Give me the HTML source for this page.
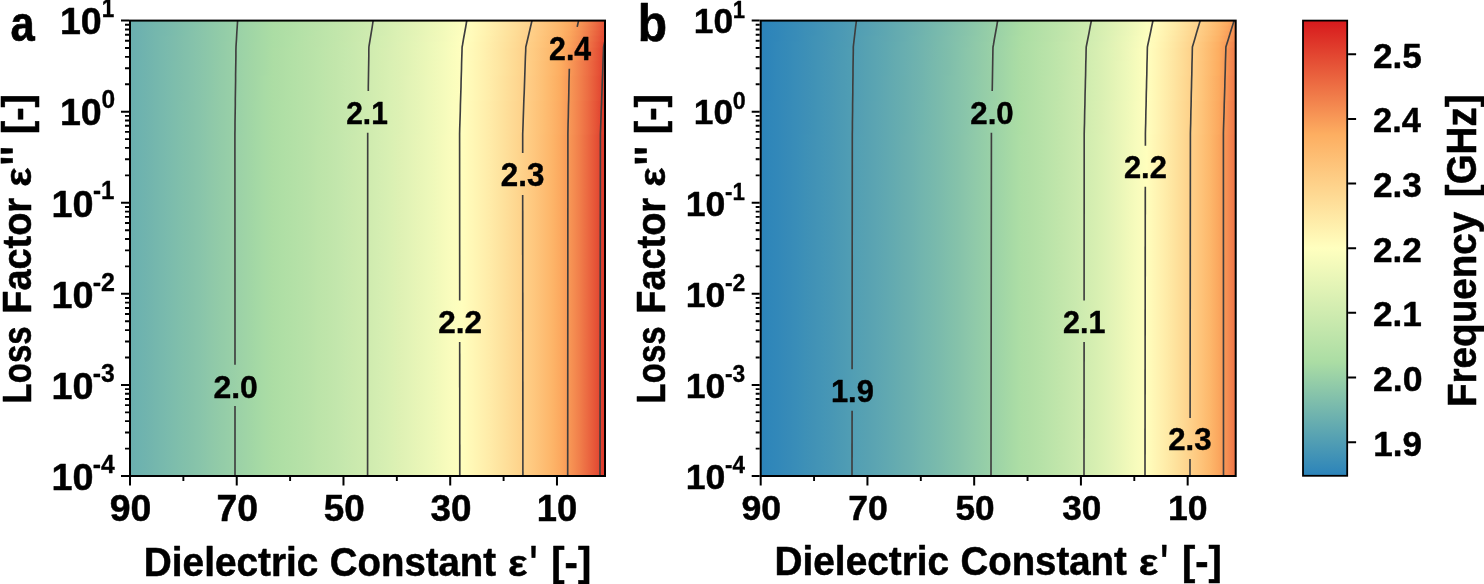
<!DOCTYPE html>
<html lang="en"><head><meta charset="utf-8"><title>Frequency maps</title>
<style>html,body{margin:0;padding:0;background:#fff}svg{display:block}</style></head>
<body>
<svg width="1484" height="584" viewBox="0 0 1484 584"><defs><linearGradient id="ga0" gradientUnits="userSpaceOnUse" x1="129.0" y1="0" x2="606.0" y2="0"><stop offset="0.0000" stop-color="#69afaf"/><stop offset="0.0189" stop-color="#6db1af"/><stop offset="0.0377" stop-color="#70b4ae"/><stop offset="0.0566" stop-color="#74b7ad"/><stop offset="0.0755" stop-color="#78b9ad"/><stop offset="0.0943" stop-color="#7cbcac"/><stop offset="0.1132" stop-color="#80bfab"/><stop offset="0.1321" stop-color="#84c2ab"/><stop offset="0.1509" stop-color="#88c5aa"/><stop offset="0.1698" stop-color="#8dc8a9"/><stop offset="0.1887" stop-color="#91cba9"/><stop offset="0.2075" stop-color="#95cea8"/><stop offset="0.2264" stop-color="#99d1a7"/><stop offset="0.2453" stop-color="#9ed4a6"/><stop offset="0.2642" stop-color="#a2d7a6"/><stop offset="0.2830" stop-color="#a6daa5"/><stop offset="0.3019" stop-color="#abdda4"/><stop offset="0.3208" stop-color="#aedea5"/><stop offset="0.3396" stop-color="#b1dfa6"/><stop offset="0.3585" stop-color="#b4e1a7"/><stop offset="0.3774" stop-color="#b7e2a8"/><stop offset="0.3962" stop-color="#bae3a9"/><stop offset="0.4151" stop-color="#bde4aa"/><stop offset="0.4340" stop-color="#c1e6ab"/><stop offset="0.4528" stop-color="#c4e7ac"/><stop offset="0.4717" stop-color="#c8e9ad"/><stop offset="0.4906" stop-color="#cbeaae"/><stop offset="0.5094" stop-color="#cfecb0"/><stop offset="0.5283" stop-color="#d3edb1"/><stop offset="0.5472" stop-color="#d7efb2"/><stop offset="0.5660" stop-color="#dbf0b3"/><stop offset="0.5849" stop-color="#dff2b5"/><stop offset="0.6038" stop-color="#e4f4b6"/><stop offset="0.6226" stop-color="#e8f6b8"/><stop offset="0.6415" stop-color="#edf8b9"/><stop offset="0.6604" stop-color="#f2fabb"/><stop offset="0.6792" stop-color="#f7fcbc"/><stop offset="0.6981" stop-color="#fcfebe"/><stop offset="0.7170" stop-color="#fffcbc"/><stop offset="0.7358" stop-color="#fff7b5"/><stop offset="0.7547" stop-color="#fff1af"/><stop offset="0.7736" stop-color="#feeba7"/><stop offset="0.7925" stop-color="#fee4a0"/><stop offset="0.8113" stop-color="#fedd98"/><stop offset="0.8302" stop-color="#fed690"/><stop offset="0.8491" stop-color="#fecf87"/><stop offset="0.8679" stop-color="#fec77e"/><stop offset="0.8868" stop-color="#fdbf74"/><stop offset="0.9057" stop-color="#fdb66a"/><stop offset="0.9245" stop-color="#fcab60"/><stop offset="0.9434" stop-color="#f79857"/><stop offset="0.9623" stop-color="#f2824d"/><stop offset="0.9811" stop-color="#eb6941"/><stop offset="1.0000" stop-color="#e54e35"/></linearGradient><linearGradient id="ga1" gradientUnits="userSpaceOnUse" x1="129.0" y1="0" x2="606.0" y2="0"><stop offset="0.0000" stop-color="#69afaf"/><stop offset="0.0189" stop-color="#6db1af"/><stop offset="0.0377" stop-color="#71b4ae"/><stop offset="0.0566" stop-color="#74b7ad"/><stop offset="0.0755" stop-color="#78b9ad"/><stop offset="0.0943" stop-color="#7cbcac"/><stop offset="0.1132" stop-color="#80bfab"/><stop offset="0.1321" stop-color="#84c2ab"/><stop offset="0.1509" stop-color="#89c5aa"/><stop offset="0.1698" stop-color="#8dc8a9"/><stop offset="0.1887" stop-color="#91cba8"/><stop offset="0.2075" stop-color="#95cea8"/><stop offset="0.2264" stop-color="#99d1a7"/><stop offset="0.2453" stop-color="#9ed4a6"/><stop offset="0.2642" stop-color="#a2d7a6"/><stop offset="0.2830" stop-color="#a7daa5"/><stop offset="0.3019" stop-color="#abdda4"/><stop offset="0.3208" stop-color="#aedea5"/><stop offset="0.3396" stop-color="#b1dfa6"/><stop offset="0.3585" stop-color="#b4e1a7"/><stop offset="0.3774" stop-color="#b7e2a8"/><stop offset="0.3962" stop-color="#bae3a9"/><stop offset="0.4151" stop-color="#bee5aa"/><stop offset="0.4340" stop-color="#c1e6ab"/><stop offset="0.4528" stop-color="#c4e7ac"/><stop offset="0.4717" stop-color="#c8e9ad"/><stop offset="0.4906" stop-color="#cbeaae"/><stop offset="0.5094" stop-color="#cfecb0"/><stop offset="0.5283" stop-color="#d3edb1"/><stop offset="0.5472" stop-color="#d7efb2"/><stop offset="0.5660" stop-color="#dbf1b4"/><stop offset="0.5849" stop-color="#e0f2b5"/><stop offset="0.6038" stop-color="#e4f4b6"/><stop offset="0.6226" stop-color="#e9f6b8"/><stop offset="0.6415" stop-color="#edf8b9"/><stop offset="0.6604" stop-color="#f2fabb"/><stop offset="0.6792" stop-color="#f8fcbd"/><stop offset="0.6981" stop-color="#fdfebe"/><stop offset="0.7170" stop-color="#fffcbb"/><stop offset="0.7358" stop-color="#fff6b5"/><stop offset="0.7547" stop-color="#fff0ae"/><stop offset="0.7736" stop-color="#feeaa7"/><stop offset="0.7925" stop-color="#fee39f"/><stop offset="0.8113" stop-color="#fedd97"/><stop offset="0.8302" stop-color="#fed58f"/><stop offset="0.8491" stop-color="#fece86"/><stop offset="0.8679" stop-color="#fec67d"/><stop offset="0.8868" stop-color="#fdbe73"/><stop offset="0.9057" stop-color="#fdb569"/><stop offset="0.9245" stop-color="#fca95f"/><stop offset="0.9434" stop-color="#f79556"/><stop offset="0.9623" stop-color="#f17f4b"/><stop offset="0.9811" stop-color="#eb6640"/><stop offset="1.0000" stop-color="#e44b33"/></linearGradient><linearGradient id="ga2" gradientUnits="userSpaceOnUse" x1="129.0" y1="0" x2="606.0" y2="0"><stop offset="0.0000" stop-color="#69afaf"/><stop offset="0.0189" stop-color="#6db1af"/><stop offset="0.0377" stop-color="#71b4ae"/><stop offset="0.0566" stop-color="#75b7ad"/><stop offset="0.0755" stop-color="#78b9ad"/><stop offset="0.0943" stop-color="#7cbcac"/><stop offset="0.1132" stop-color="#80bfab"/><stop offset="0.1321" stop-color="#85c2ab"/><stop offset="0.1509" stop-color="#89c5aa"/><stop offset="0.1698" stop-color="#8dc8a9"/><stop offset="0.1887" stop-color="#91cba8"/><stop offset="0.2075" stop-color="#95cea8"/><stop offset="0.2264" stop-color="#9ad1a7"/><stop offset="0.2453" stop-color="#9ed4a6"/><stop offset="0.2642" stop-color="#a2d7a5"/><stop offset="0.2830" stop-color="#a7daa5"/><stop offset="0.3019" stop-color="#abdda4"/><stop offset="0.3208" stop-color="#aedea5"/><stop offset="0.3396" stop-color="#b1dfa6"/><stop offset="0.3585" stop-color="#b4e1a7"/><stop offset="0.3774" stop-color="#b7e2a8"/><stop offset="0.3962" stop-color="#bbe3a9"/><stop offset="0.4151" stop-color="#bee5aa"/><stop offset="0.4340" stop-color="#c1e6ab"/><stop offset="0.4528" stop-color="#c5e7ac"/><stop offset="0.4717" stop-color="#c8e9ad"/><stop offset="0.4906" stop-color="#cceaaf"/><stop offset="0.5094" stop-color="#d0ecb0"/><stop offset="0.5283" stop-color="#d3edb1"/><stop offset="0.5472" stop-color="#d7efb2"/><stop offset="0.5660" stop-color="#dcf1b4"/><stop offset="0.5849" stop-color="#e0f2b5"/><stop offset="0.6038" stop-color="#e4f4b6"/><stop offset="0.6226" stop-color="#e9f6b8"/><stop offset="0.6415" stop-color="#eef8b9"/><stop offset="0.6604" stop-color="#f3fabb"/><stop offset="0.6792" stop-color="#f8fcbd"/><stop offset="0.6981" stop-color="#fdfebe"/><stop offset="0.7170" stop-color="#fffbbb"/><stop offset="0.7358" stop-color="#fff6b4"/><stop offset="0.7547" stop-color="#fff0ad"/><stop offset="0.7736" stop-color="#fee9a6"/><stop offset="0.7925" stop-color="#fee39e"/><stop offset="0.8113" stop-color="#fedc96"/><stop offset="0.8302" stop-color="#fed48e"/><stop offset="0.8491" stop-color="#fecd85"/><stop offset="0.8679" stop-color="#fec57c"/><stop offset="0.8868" stop-color="#fdbd72"/><stop offset="0.9057" stop-color="#fdb468"/><stop offset="0.9245" stop-color="#fba65d"/><stop offset="0.9434" stop-color="#f69354"/><stop offset="0.9623" stop-color="#f07c4a"/><stop offset="0.9811" stop-color="#ea633e"/><stop offset="1.0000" stop-color="#e34832"/></linearGradient><linearGradient id="ga3" gradientUnits="userSpaceOnUse" x1="129.0" y1="0" x2="606.0" y2="0"><stop offset="0.0000" stop-color="#69afaf"/><stop offset="0.0189" stop-color="#6db1af"/><stop offset="0.0377" stop-color="#71b4ae"/><stop offset="0.0566" stop-color="#75b7ad"/><stop offset="0.0755" stop-color="#79baad"/><stop offset="0.0943" stop-color="#7dbcac"/><stop offset="0.1132" stop-color="#81bfab"/><stop offset="0.1321" stop-color="#85c2ab"/><stop offset="0.1509" stop-color="#89c5aa"/><stop offset="0.1698" stop-color="#8dc8a9"/><stop offset="0.1887" stop-color="#91cba8"/><stop offset="0.2075" stop-color="#95cea8"/><stop offset="0.2264" stop-color="#9ad1a7"/><stop offset="0.2453" stop-color="#9ed4a6"/><stop offset="0.2642" stop-color="#a2d7a5"/><stop offset="0.2830" stop-color="#a7daa5"/><stop offset="0.3019" stop-color="#abdda4"/><stop offset="0.3208" stop-color="#aedea5"/><stop offset="0.3396" stop-color="#b1e0a6"/><stop offset="0.3585" stop-color="#b4e1a7"/><stop offset="0.3774" stop-color="#b8e2a8"/><stop offset="0.3962" stop-color="#bbe3a9"/><stop offset="0.4151" stop-color="#bee5aa"/><stop offset="0.4340" stop-color="#c1e6ab"/><stop offset="0.4528" stop-color="#c5e7ac"/><stop offset="0.4717" stop-color="#c9e9ad"/><stop offset="0.4906" stop-color="#cceaaf"/><stop offset="0.5094" stop-color="#d0ecb0"/><stop offset="0.5283" stop-color="#d4eeb1"/><stop offset="0.5472" stop-color="#d8efb2"/><stop offset="0.5660" stop-color="#dcf1b4"/><stop offset="0.5849" stop-color="#e0f3b5"/><stop offset="0.6038" stop-color="#e5f4b7"/><stop offset="0.6226" stop-color="#eaf6b8"/><stop offset="0.6415" stop-color="#eef8ba"/><stop offset="0.6604" stop-color="#f3fabb"/><stop offset="0.6792" stop-color="#f9fcbd"/><stop offset="0.6981" stop-color="#feffbf"/><stop offset="0.7170" stop-color="#fffbba"/><stop offset="0.7358" stop-color="#fff5b3"/><stop offset="0.7547" stop-color="#ffefac"/><stop offset="0.7736" stop-color="#fee8a5"/><stop offset="0.7925" stop-color="#fee29d"/><stop offset="0.8113" stop-color="#fedb95"/><stop offset="0.8302" stop-color="#fed38c"/><stop offset="0.8491" stop-color="#fecc84"/><stop offset="0.8679" stop-color="#fec47a"/><stop offset="0.8868" stop-color="#fdbb71"/><stop offset="0.9057" stop-color="#fdb266"/><stop offset="0.9245" stop-color="#faa45c"/><stop offset="0.9434" stop-color="#f59053"/><stop offset="0.9623" stop-color="#ef7948"/><stop offset="0.9811" stop-color="#e95f3d"/><stop offset="1.0000" stop-color="#e24430"/></linearGradient><linearGradient id="ga4" gradientUnits="userSpaceOnUse" x1="129.0" y1="0" x2="606.0" y2="0"><stop offset="0.0000" stop-color="#69afaf"/><stop offset="0.0189" stop-color="#6db1af"/><stop offset="0.0377" stop-color="#71b4ae"/><stop offset="0.0566" stop-color="#75b7ad"/><stop offset="0.0755" stop-color="#79baad"/><stop offset="0.0943" stop-color="#7dbcac"/><stop offset="0.1132" stop-color="#81bfab"/><stop offset="0.1321" stop-color="#85c2ab"/><stop offset="0.1509" stop-color="#89c5aa"/><stop offset="0.1698" stop-color="#8dc8a9"/><stop offset="0.1887" stop-color="#91cba8"/><stop offset="0.2075" stop-color="#96cea8"/><stop offset="0.2264" stop-color="#9ad1a7"/><stop offset="0.2453" stop-color="#9ed4a6"/><stop offset="0.2642" stop-color="#a3d7a5"/><stop offset="0.2830" stop-color="#a7daa5"/><stop offset="0.3019" stop-color="#abdda4"/><stop offset="0.3208" stop-color="#aedea5"/><stop offset="0.3396" stop-color="#b1e0a6"/><stop offset="0.3585" stop-color="#b5e1a7"/><stop offset="0.3774" stop-color="#b8e2a8"/><stop offset="0.3962" stop-color="#bbe3a9"/><stop offset="0.4151" stop-color="#bee5aa"/><stop offset="0.4340" stop-color="#c2e6ab"/><stop offset="0.4528" stop-color="#c5e8ac"/><stop offset="0.4717" stop-color="#c9e9ae"/><stop offset="0.4906" stop-color="#cdebaf"/><stop offset="0.5094" stop-color="#d0ecb0"/><stop offset="0.5283" stop-color="#d4eeb1"/><stop offset="0.5472" stop-color="#d8efb3"/><stop offset="0.5660" stop-color="#ddf1b4"/><stop offset="0.5849" stop-color="#e1f3b5"/><stop offset="0.6038" stop-color="#e5f5b7"/><stop offset="0.6226" stop-color="#eaf7b8"/><stop offset="0.6415" stop-color="#eff9ba"/><stop offset="0.6604" stop-color="#f4fbbb"/><stop offset="0.6792" stop-color="#f9fdbd"/><stop offset="0.6981" stop-color="#ffffbf"/><stop offset="0.7170" stop-color="#fffab9"/><stop offset="0.7358" stop-color="#fff4b2"/><stop offset="0.7547" stop-color="#ffeeab"/><stop offset="0.7736" stop-color="#fee7a4"/><stop offset="0.7925" stop-color="#fee19c"/><stop offset="0.8113" stop-color="#feda94"/><stop offset="0.8302" stop-color="#fed28b"/><stop offset="0.8491" stop-color="#fecb82"/><stop offset="0.8679" stop-color="#fec379"/><stop offset="0.8868" stop-color="#fdba6f"/><stop offset="0.9057" stop-color="#fdb164"/><stop offset="0.9245" stop-color="#faa15b"/><stop offset="0.9434" stop-color="#f48d52"/><stop offset="0.9623" stop-color="#ef7547"/><stop offset="0.9811" stop-color="#e85b3b"/><stop offset="1.0000" stop-color="#e13f2e"/></linearGradient><linearGradient id="ga5" gradientUnits="userSpaceOnUse" x1="129.0" y1="0" x2="606.0" y2="0"><stop offset="0.0000" stop-color="#69afaf"/><stop offset="0.0189" stop-color="#6db1af"/><stop offset="0.0377" stop-color="#71b4ae"/><stop offset="0.0566" stop-color="#75b7ad"/><stop offset="0.0755" stop-color="#79baad"/><stop offset="0.0943" stop-color="#7dbcac"/><stop offset="0.1132" stop-color="#81bfab"/><stop offset="0.1321" stop-color="#85c2ab"/><stop offset="0.1509" stop-color="#89c5aa"/><stop offset="0.1698" stop-color="#8dc8a9"/><stop offset="0.1887" stop-color="#91cba8"/><stop offset="0.2075" stop-color="#96cea8"/><stop offset="0.2264" stop-color="#9ad1a7"/><stop offset="0.2453" stop-color="#9ed4a6"/><stop offset="0.2642" stop-color="#a3d7a5"/><stop offset="0.2830" stop-color="#a7daa5"/><stop offset="0.3019" stop-color="#acdda4"/><stop offset="0.3208" stop-color="#afdea5"/><stop offset="0.3396" stop-color="#b2e0a6"/><stop offset="0.3585" stop-color="#b5e1a7"/><stop offset="0.3774" stop-color="#b8e2a8"/><stop offset="0.3962" stop-color="#bbe4a9"/><stop offset="0.4151" stop-color="#bfe5aa"/><stop offset="0.4340" stop-color="#c2e6ab"/><stop offset="0.4528" stop-color="#c5e8ad"/><stop offset="0.4717" stop-color="#c9e9ae"/><stop offset="0.4906" stop-color="#cdebaf"/><stop offset="0.5094" stop-color="#d1ecb0"/><stop offset="0.5283" stop-color="#d5eeb1"/><stop offset="0.5472" stop-color="#d9efb3"/><stop offset="0.5660" stop-color="#ddf1b4"/><stop offset="0.5849" stop-color="#e1f3b5"/><stop offset="0.6038" stop-color="#e6f5b7"/><stop offset="0.6226" stop-color="#eaf7b8"/><stop offset="0.6415" stop-color="#eff9ba"/><stop offset="0.6604" stop-color="#f4fbbc"/><stop offset="0.6792" stop-color="#fafdbd"/><stop offset="0.6981" stop-color="#ffffbf"/><stop offset="0.7170" stop-color="#fff9b9"/><stop offset="0.7358" stop-color="#fff4b2"/><stop offset="0.7547" stop-color="#ffedab"/><stop offset="0.7736" stop-color="#fee7a3"/><stop offset="0.7925" stop-color="#fee09b"/><stop offset="0.8113" stop-color="#fed993"/><stop offset="0.8302" stop-color="#fed18a"/><stop offset="0.8491" stop-color="#feca81"/><stop offset="0.8679" stop-color="#fdc178"/><stop offset="0.8868" stop-color="#fdb96d"/><stop offset="0.9057" stop-color="#fdaf62"/><stop offset="0.9245" stop-color="#f99d59"/><stop offset="0.9434" stop-color="#f48950"/><stop offset="0.9623" stop-color="#ee7245"/><stop offset="0.9811" stop-color="#e75839"/><stop offset="1.0000" stop-color="#e03d2c"/></linearGradient><linearGradient id="ga6" gradientUnits="userSpaceOnUse" x1="129.0" y1="0" x2="606.0" y2="0"><stop offset="0.0000" stop-color="#69afaf"/><stop offset="0.0189" stop-color="#6db2af"/><stop offset="0.0377" stop-color="#71b4ae"/><stop offset="0.0566" stop-color="#75b7ad"/><stop offset="0.0755" stop-color="#79baad"/><stop offset="0.0943" stop-color="#7dbdac"/><stop offset="0.1132" stop-color="#81bfab"/><stop offset="0.1321" stop-color="#85c2ab"/><stop offset="0.1509" stop-color="#89c5aa"/><stop offset="0.1698" stop-color="#8dc8a9"/><stop offset="0.1887" stop-color="#92cba8"/><stop offset="0.2075" stop-color="#96cea8"/><stop offset="0.2264" stop-color="#9ad1a7"/><stop offset="0.2453" stop-color="#9fd4a6"/><stop offset="0.2642" stop-color="#a3d7a5"/><stop offset="0.2830" stop-color="#a7daa5"/><stop offset="0.3019" stop-color="#acdda4"/><stop offset="0.3208" stop-color="#afdea5"/><stop offset="0.3396" stop-color="#b2e0a6"/><stop offset="0.3585" stop-color="#b5e1a7"/><stop offset="0.3774" stop-color="#b8e2a8"/><stop offset="0.3962" stop-color="#bbe4a9"/><stop offset="0.4151" stop-color="#bfe5aa"/><stop offset="0.4340" stop-color="#c2e6ab"/><stop offset="0.4528" stop-color="#c6e8ad"/><stop offset="0.4717" stop-color="#c9e9ae"/><stop offset="0.4906" stop-color="#cdebaf"/><stop offset="0.5094" stop-color="#d1ecb0"/><stop offset="0.5283" stop-color="#d5eeb1"/><stop offset="0.5472" stop-color="#d9f0b3"/><stop offset="0.5660" stop-color="#ddf1b4"/><stop offset="0.5849" stop-color="#e1f3b5"/><stop offset="0.6038" stop-color="#e6f5b7"/><stop offset="0.6226" stop-color="#ebf7b8"/><stop offset="0.6415" stop-color="#f0f9ba"/><stop offset="0.6604" stop-color="#f5fbbc"/><stop offset="0.6792" stop-color="#fafdbd"/><stop offset="0.6981" stop-color="#ffffbf"/><stop offset="0.7170" stop-color="#fff9b8"/><stop offset="0.7358" stop-color="#fff3b1"/><stop offset="0.7547" stop-color="#ffedaa"/><stop offset="0.7736" stop-color="#fee7a3"/><stop offset="0.7925" stop-color="#fee09b"/><stop offset="0.8113" stop-color="#fed992"/><stop offset="0.8302" stop-color="#fed18a"/><stop offset="0.8491" stop-color="#fec980"/><stop offset="0.8679" stop-color="#fdc076"/><stop offset="0.8868" stop-color="#fdb76b"/><stop offset="0.9057" stop-color="#fdac60"/><stop offset="0.9245" stop-color="#f89957"/><stop offset="0.9434" stop-color="#f2844e"/><stop offset="0.9623" stop-color="#ed6e44"/><stop offset="0.9811" stop-color="#e75638"/><stop offset="1.0000" stop-color="#e03b2c"/></linearGradient><linearGradient id="ga7" gradientUnits="userSpaceOnUse" x1="129.0" y1="0" x2="606.0" y2="0"><stop offset="0.0000" stop-color="#69afaf"/><stop offset="0.0189" stop-color="#6db2af"/><stop offset="0.0377" stop-color="#71b4ae"/><stop offset="0.0566" stop-color="#75b7ad"/><stop offset="0.0755" stop-color="#79baad"/><stop offset="0.0943" stop-color="#7dbdac"/><stop offset="0.1132" stop-color="#81bfab"/><stop offset="0.1321" stop-color="#85c2ab"/><stop offset="0.1509" stop-color="#89c5aa"/><stop offset="0.1698" stop-color="#8dc8a9"/><stop offset="0.1887" stop-color="#92cba8"/><stop offset="0.2075" stop-color="#96cea8"/><stop offset="0.2264" stop-color="#9ad1a7"/><stop offset="0.2453" stop-color="#9fd4a6"/><stop offset="0.2642" stop-color="#a3d7a5"/><stop offset="0.2830" stop-color="#a8dba5"/><stop offset="0.3019" stop-color="#acdda4"/><stop offset="0.3208" stop-color="#afdea5"/><stop offset="0.3396" stop-color="#b2e0a6"/><stop offset="0.3585" stop-color="#b5e1a7"/><stop offset="0.3774" stop-color="#b8e2a8"/><stop offset="0.3962" stop-color="#bbe4a9"/><stop offset="0.4151" stop-color="#bfe5aa"/><stop offset="0.4340" stop-color="#c2e6ab"/><stop offset="0.4528" stop-color="#c6e8ad"/><stop offset="0.4717" stop-color="#c9e9ae"/><stop offset="0.4906" stop-color="#cdebaf"/><stop offset="0.5094" stop-color="#d1ecb0"/><stop offset="0.5283" stop-color="#d5eeb1"/><stop offset="0.5472" stop-color="#d9f0b3"/><stop offset="0.5660" stop-color="#ddf1b4"/><stop offset="0.5849" stop-color="#e2f3b6"/><stop offset="0.6038" stop-color="#e6f5b7"/><stop offset="0.6226" stop-color="#ebf7b9"/><stop offset="0.6415" stop-color="#f0f9ba"/><stop offset="0.6604" stop-color="#f5fbbc"/><stop offset="0.6792" stop-color="#fafdbd"/><stop offset="0.6981" stop-color="#fffebe"/><stop offset="0.7170" stop-color="#fff9b8"/><stop offset="0.7358" stop-color="#fff3b1"/><stop offset="0.7547" stop-color="#ffedaa"/><stop offset="0.7736" stop-color="#fee6a2"/><stop offset="0.7925" stop-color="#fedf9a"/><stop offset="0.8113" stop-color="#fed892"/><stop offset="0.8302" stop-color="#fed089"/><stop offset="0.8491" stop-color="#fec880"/><stop offset="0.8679" stop-color="#fdc075"/><stop offset="0.8868" stop-color="#fdb66a"/><stop offset="0.9057" stop-color="#fcab5f"/><stop offset="0.9245" stop-color="#f79756"/><stop offset="0.9434" stop-color="#f2834d"/><stop offset="0.9623" stop-color="#ec6d43"/><stop offset="0.9811" stop-color="#e65437"/><stop offset="1.0000" stop-color="#df392b"/></linearGradient><linearGradient id="ga8" gradientUnits="userSpaceOnUse" x1="129.0" y1="0" x2="606.0" y2="0"><stop offset="0.0000" stop-color="#6aafaf"/><stop offset="0.0189" stop-color="#6db2af"/><stop offset="0.0377" stop-color="#71b4ae"/><stop offset="0.0566" stop-color="#75b7ad"/><stop offset="0.0755" stop-color="#79baad"/><stop offset="0.0943" stop-color="#7dbdac"/><stop offset="0.1132" stop-color="#81c0ab"/><stop offset="0.1321" stop-color="#85c2aa"/><stop offset="0.1509" stop-color="#89c5aa"/><stop offset="0.1698" stop-color="#8ec8a9"/><stop offset="0.1887" stop-color="#92cba8"/><stop offset="0.2075" stop-color="#96cea8"/><stop offset="0.2264" stop-color="#9ad1a7"/><stop offset="0.2453" stop-color="#9fd4a6"/><stop offset="0.2642" stop-color="#a3d8a5"/><stop offset="0.2830" stop-color="#a8dba5"/><stop offset="0.3019" stop-color="#acdda4"/><stop offset="0.3208" stop-color="#afdfa5"/><stop offset="0.3396" stop-color="#b2e0a6"/><stop offset="0.3585" stop-color="#b5e1a7"/><stop offset="0.3774" stop-color="#b8e2a8"/><stop offset="0.3962" stop-color="#bbe4a9"/><stop offset="0.4151" stop-color="#bfe5aa"/><stop offset="0.4340" stop-color="#c2e6ab"/><stop offset="0.4528" stop-color="#c6e8ad"/><stop offset="0.4717" stop-color="#c9e9ae"/><stop offset="0.4906" stop-color="#cdebaf"/><stop offset="0.5094" stop-color="#d1ecb0"/><stop offset="0.5283" stop-color="#d5eeb2"/><stop offset="0.5472" stop-color="#d9f0b3"/><stop offset="0.5660" stop-color="#ddf1b4"/><stop offset="0.5849" stop-color="#e2f3b6"/><stop offset="0.6038" stop-color="#e6f5b7"/><stop offset="0.6226" stop-color="#ebf7b9"/><stop offset="0.6415" stop-color="#f0f9ba"/><stop offset="0.6604" stop-color="#f5fbbc"/><stop offset="0.6792" stop-color="#fbfdbe"/><stop offset="0.6981" stop-color="#fffebe"/><stop offset="0.7170" stop-color="#fff8b7"/><stop offset="0.7358" stop-color="#fff2b0"/><stop offset="0.7547" stop-color="#ffeca9"/><stop offset="0.7736" stop-color="#fee5a1"/><stop offset="0.7925" stop-color="#fede99"/><stop offset="0.8113" stop-color="#fed791"/><stop offset="0.8302" stop-color="#fed088"/><stop offset="0.8491" stop-color="#fec77e"/><stop offset="0.8679" stop-color="#fdbf74"/><stop offset="0.8868" stop-color="#fdb56a"/><stop offset="0.9057" stop-color="#fca95f"/><stop offset="0.9245" stop-color="#f79656"/><stop offset="0.9434" stop-color="#f2814c"/><stop offset="0.9623" stop-color="#ec6a42"/><stop offset="0.9811" stop-color="#e55136"/><stop offset="1.0000" stop-color="#de3529"/></linearGradient><linearGradient id="ga9" gradientUnits="userSpaceOnUse" x1="129.0" y1="0" x2="606.0" y2="0"><stop offset="0.0000" stop-color="#6aafaf"/><stop offset="0.0189" stop-color="#6db2af"/><stop offset="0.0377" stop-color="#71b4ae"/><stop offset="0.0566" stop-color="#75b7ad"/><stop offset="0.0755" stop-color="#79baad"/><stop offset="0.0943" stop-color="#7dbdac"/><stop offset="0.1132" stop-color="#81c0ab"/><stop offset="0.1321" stop-color="#85c2aa"/><stop offset="0.1509" stop-color="#89c5aa"/><stop offset="0.1698" stop-color="#8ec8a9"/><stop offset="0.1887" stop-color="#92cba8"/><stop offset="0.2075" stop-color="#96cea8"/><stop offset="0.2264" stop-color="#9bd1a7"/><stop offset="0.2453" stop-color="#9fd4a6"/><stop offset="0.2642" stop-color="#a3d8a5"/><stop offset="0.2830" stop-color="#a8dba5"/><stop offset="0.3019" stop-color="#acdda4"/><stop offset="0.3208" stop-color="#afdfa5"/><stop offset="0.3396" stop-color="#b2e0a6"/><stop offset="0.3585" stop-color="#b5e1a7"/><stop offset="0.3774" stop-color="#b8e2a8"/><stop offset="0.3962" stop-color="#bce4a9"/><stop offset="0.4151" stop-color="#bfe5aa"/><stop offset="0.4340" stop-color="#c2e6ac"/><stop offset="0.4528" stop-color="#c6e8ad"/><stop offset="0.4717" stop-color="#cae9ae"/><stop offset="0.4906" stop-color="#cdebaf"/><stop offset="0.5094" stop-color="#d1ecb0"/><stop offset="0.5283" stop-color="#d5eeb2"/><stop offset="0.5472" stop-color="#d9f0b3"/><stop offset="0.5660" stop-color="#def1b4"/><stop offset="0.5849" stop-color="#e2f3b6"/><stop offset="0.6038" stop-color="#e7f5b7"/><stop offset="0.6226" stop-color="#ebf7b9"/><stop offset="0.6415" stop-color="#f0f9ba"/><stop offset="0.6604" stop-color="#f6fbbc"/><stop offset="0.6792" stop-color="#fbfdbe"/><stop offset="0.6981" stop-color="#fffebd"/><stop offset="0.7170" stop-color="#fff8b7"/><stop offset="0.7358" stop-color="#fff2b0"/><stop offset="0.7547" stop-color="#ffeca9"/><stop offset="0.7736" stop-color="#fee5a1"/><stop offset="0.7925" stop-color="#fede99"/><stop offset="0.8113" stop-color="#fed790"/><stop offset="0.8302" stop-color="#fecf87"/><stop offset="0.8491" stop-color="#fec77e"/><stop offset="0.8679" stop-color="#fdbe74"/><stop offset="0.8868" stop-color="#fdb569"/><stop offset="0.9057" stop-color="#fca85e"/><stop offset="0.9245" stop-color="#f79555"/><stop offset="0.9434" stop-color="#f1804b"/><stop offset="0.9623" stop-color="#eb6841"/><stop offset="0.9811" stop-color="#e54f35"/><stop offset="1.0000" stop-color="#dd3228"/></linearGradient><linearGradient id="gb0" gradientUnits="userSpaceOnUse" x1="759.7" y1="0" x2="1236.7" y2="0"><stop offset="0.0000" stop-color="#2b83ba"/><stop offset="0.0189" stop-color="#2d85ba"/><stop offset="0.0377" stop-color="#3187b9"/><stop offset="0.0566" stop-color="#348ab8"/><stop offset="0.0755" stop-color="#388cb8"/><stop offset="0.0943" stop-color="#3b8fb7"/><stop offset="0.1132" stop-color="#3f91b7"/><stop offset="0.1321" stop-color="#4394b6"/><stop offset="0.1509" stop-color="#4696b5"/><stop offset="0.1698" stop-color="#4a99b5"/><stop offset="0.1887" stop-color="#4e9cb4"/><stop offset="0.2075" stop-color="#529eb3"/><stop offset="0.2264" stop-color="#56a1b3"/><stop offset="0.2453" stop-color="#5aa4b2"/><stop offset="0.2642" stop-color="#5ea7b1"/><stop offset="0.2830" stop-color="#62aab1"/><stop offset="0.3019" stop-color="#66adb0"/><stop offset="0.3208" stop-color="#6bb0af"/><stop offset="0.3396" stop-color="#6fb3ae"/><stop offset="0.3585" stop-color="#74b6ae"/><stop offset="0.3774" stop-color="#78b9ad"/><stop offset="0.3962" stop-color="#7dbdac"/><stop offset="0.4151" stop-color="#82c0ab"/><stop offset="0.4340" stop-color="#87c4aa"/><stop offset="0.4528" stop-color="#8cc8a9"/><stop offset="0.4717" stop-color="#92cba8"/><stop offset="0.4906" stop-color="#97cfa7"/><stop offset="0.5094" stop-color="#9dd3a6"/><stop offset="0.5283" stop-color="#a3d7a5"/><stop offset="0.5472" stop-color="#a9dca4"/><stop offset="0.5660" stop-color="#aedea5"/><stop offset="0.5849" stop-color="#b2e0a6"/><stop offset="0.6038" stop-color="#b7e2a8"/><stop offset="0.6226" stop-color="#bbe4a9"/><stop offset="0.6415" stop-color="#c0e6ab"/><stop offset="0.6604" stop-color="#c6e8ad"/><stop offset="0.6792" stop-color="#cbeaae"/><stop offset="0.6981" stop-color="#d0ecb0"/><stop offset="0.7170" stop-color="#d6efb2"/><stop offset="0.7358" stop-color="#ddf1b4"/><stop offset="0.7547" stop-color="#e4f4b6"/><stop offset="0.7736" stop-color="#ebf7b8"/><stop offset="0.7925" stop-color="#f2fabb"/><stop offset="0.8113" stop-color="#fafdbd"/><stop offset="0.8302" stop-color="#fffcbc"/><stop offset="0.8491" stop-color="#fff4b3"/><stop offset="0.8679" stop-color="#ffeca9"/><stop offset="0.8868" stop-color="#fee39f"/><stop offset="0.9057" stop-color="#feda94"/><stop offset="0.9245" stop-color="#fed088"/><stop offset="0.9434" stop-color="#fec57b"/><stop offset="0.9623" stop-color="#fdb96d"/><stop offset="0.9811" stop-color="#fcaa5f"/><stop offset="1.0000" stop-color="#f59053"/></linearGradient><linearGradient id="gb1" gradientUnits="userSpaceOnUse" x1="759.7" y1="0" x2="1236.7" y2="0"><stop offset="0.0000" stop-color="#2b83ba"/><stop offset="0.0189" stop-color="#2e85ba"/><stop offset="0.0377" stop-color="#3187b9"/><stop offset="0.0566" stop-color="#348ab8"/><stop offset="0.0755" stop-color="#388cb8"/><stop offset="0.0943" stop-color="#3c8fb7"/><stop offset="0.1132" stop-color="#3f91b7"/><stop offset="0.1321" stop-color="#4394b6"/><stop offset="0.1509" stop-color="#4796b5"/><stop offset="0.1698" stop-color="#4a99b5"/><stop offset="0.1887" stop-color="#4e9cb4"/><stop offset="0.2075" stop-color="#529fb3"/><stop offset="0.2264" stop-color="#56a1b3"/><stop offset="0.2453" stop-color="#5aa4b2"/><stop offset="0.2642" stop-color="#5ea7b1"/><stop offset="0.2830" stop-color="#62aab0"/><stop offset="0.3019" stop-color="#67adb0"/><stop offset="0.3208" stop-color="#6bb0af"/><stop offset="0.3396" stop-color="#6fb3ae"/><stop offset="0.3585" stop-color="#74b6ad"/><stop offset="0.3774" stop-color="#79baad"/><stop offset="0.3962" stop-color="#7ebdac"/><stop offset="0.4151" stop-color="#83c1ab"/><stop offset="0.4340" stop-color="#88c4aa"/><stop offset="0.4528" stop-color="#8dc8a9"/><stop offset="0.4717" stop-color="#92cca8"/><stop offset="0.4906" stop-color="#98d0a7"/><stop offset="0.5094" stop-color="#9ed4a6"/><stop offset="0.5283" stop-color="#a3d8a5"/><stop offset="0.5472" stop-color="#aadca4"/><stop offset="0.5660" stop-color="#aedea5"/><stop offset="0.5849" stop-color="#b3e0a6"/><stop offset="0.6038" stop-color="#b7e2a8"/><stop offset="0.6226" stop-color="#bce4a9"/><stop offset="0.6415" stop-color="#c1e6ab"/><stop offset="0.6604" stop-color="#c6e8ad"/><stop offset="0.6792" stop-color="#cbeaae"/><stop offset="0.6981" stop-color="#d1ecb0"/><stop offset="0.7170" stop-color="#d7efb2"/><stop offset="0.7358" stop-color="#ddf1b4"/><stop offset="0.7547" stop-color="#e4f4b6"/><stop offset="0.7736" stop-color="#ebf7b9"/><stop offset="0.7925" stop-color="#f3fabb"/><stop offset="0.8113" stop-color="#fbfdbe"/><stop offset="0.8302" stop-color="#fffbbb"/><stop offset="0.8491" stop-color="#fff3b1"/><stop offset="0.8679" stop-color="#ffeba8"/><stop offset="0.8868" stop-color="#fee29d"/><stop offset="0.9057" stop-color="#fed892"/><stop offset="0.9245" stop-color="#fece86"/><stop offset="0.9434" stop-color="#fec379"/><stop offset="0.9623" stop-color="#fdb76b"/><stop offset="0.9811" stop-color="#fba65d"/><stop offset="1.0000" stop-color="#f48b51"/></linearGradient><linearGradient id="gb2" gradientUnits="userSpaceOnUse" x1="759.7" y1="0" x2="1236.7" y2="0"><stop offset="0.0000" stop-color="#2b83ba"/><stop offset="0.0189" stop-color="#2e85ba"/><stop offset="0.0377" stop-color="#3187b9"/><stop offset="0.0566" stop-color="#358ab8"/><stop offset="0.0755" stop-color="#388cb8"/><stop offset="0.0943" stop-color="#3c8fb7"/><stop offset="0.1132" stop-color="#3f91b6"/><stop offset="0.1321" stop-color="#4394b6"/><stop offset="0.1509" stop-color="#4797b5"/><stop offset="0.1698" stop-color="#4b99b5"/><stop offset="0.1887" stop-color="#4f9cb4"/><stop offset="0.2075" stop-color="#529fb3"/><stop offset="0.2264" stop-color="#56a1b3"/><stop offset="0.2453" stop-color="#5aa4b2"/><stop offset="0.2642" stop-color="#5ea7b1"/><stop offset="0.2830" stop-color="#63aab0"/><stop offset="0.3019" stop-color="#67adb0"/><stop offset="0.3208" stop-color="#6bb0af"/><stop offset="0.3396" stop-color="#70b3ae"/><stop offset="0.3585" stop-color="#74b7ad"/><stop offset="0.3774" stop-color="#79baad"/><stop offset="0.3962" stop-color="#7ebdac"/><stop offset="0.4151" stop-color="#83c1ab"/><stop offset="0.4340" stop-color="#88c4aa"/><stop offset="0.4528" stop-color="#8dc8a9"/><stop offset="0.4717" stop-color="#93cca8"/><stop offset="0.4906" stop-color="#98d0a7"/><stop offset="0.5094" stop-color="#9ed4a6"/><stop offset="0.5283" stop-color="#a4d8a5"/><stop offset="0.5472" stop-color="#aadca4"/><stop offset="0.5660" stop-color="#afdfa5"/><stop offset="0.5849" stop-color="#b3e0a7"/><stop offset="0.6038" stop-color="#b8e2a8"/><stop offset="0.6226" stop-color="#bce4aa"/><stop offset="0.6415" stop-color="#c1e6ab"/><stop offset="0.6604" stop-color="#c7e8ad"/><stop offset="0.6792" stop-color="#cceaaf"/><stop offset="0.6981" stop-color="#d2edb0"/><stop offset="0.7170" stop-color="#d8efb2"/><stop offset="0.7358" stop-color="#def2b4"/><stop offset="0.7547" stop-color="#e5f4b7"/><stop offset="0.7736" stop-color="#ecf7b9"/><stop offset="0.7925" stop-color="#f4fabb"/><stop offset="0.8113" stop-color="#fcfebe"/><stop offset="0.8302" stop-color="#fffaba"/><stop offset="0.8491" stop-color="#fff2b0"/><stop offset="0.8679" stop-color="#feeaa6"/><stop offset="0.8868" stop-color="#fee09c"/><stop offset="0.9057" stop-color="#fed790"/><stop offset="0.9245" stop-color="#fecc84"/><stop offset="0.9434" stop-color="#fdc177"/><stop offset="0.9623" stop-color="#fdb569"/><stop offset="0.9811" stop-color="#faa15b"/><stop offset="1.0000" stop-color="#f3864f"/></linearGradient><linearGradient id="gb3" gradientUnits="userSpaceOnUse" x1="759.7" y1="0" x2="1236.7" y2="0"><stop offset="0.0000" stop-color="#2b83ba"/><stop offset="0.0189" stop-color="#2e85b9"/><stop offset="0.0377" stop-color="#3187b9"/><stop offset="0.0566" stop-color="#358ab8"/><stop offset="0.0755" stop-color="#388cb8"/><stop offset="0.0943" stop-color="#3c8fb7"/><stop offset="0.1132" stop-color="#4092b6"/><stop offset="0.1321" stop-color="#4394b6"/><stop offset="0.1509" stop-color="#4797b5"/><stop offset="0.1698" stop-color="#4b99b5"/><stop offset="0.1887" stop-color="#4f9cb4"/><stop offset="0.2075" stop-color="#539fb3"/><stop offset="0.2264" stop-color="#57a2b2"/><stop offset="0.2453" stop-color="#5ba5b2"/><stop offset="0.2642" stop-color="#5fa7b1"/><stop offset="0.2830" stop-color="#63aab0"/><stop offset="0.3019" stop-color="#67adb0"/><stop offset="0.3208" stop-color="#6cb1af"/><stop offset="0.3396" stop-color="#70b4ae"/><stop offset="0.3585" stop-color="#75b7ad"/><stop offset="0.3774" stop-color="#7abaac"/><stop offset="0.3962" stop-color="#7fbeac"/><stop offset="0.4151" stop-color="#84c1ab"/><stop offset="0.4340" stop-color="#89c5aa"/><stop offset="0.4528" stop-color="#8ec9a9"/><stop offset="0.4717" stop-color="#93cca8"/><stop offset="0.4906" stop-color="#99d0a7"/><stop offset="0.5094" stop-color="#9fd4a6"/><stop offset="0.5283" stop-color="#a5d9a5"/><stop offset="0.5472" stop-color="#abdda4"/><stop offset="0.5660" stop-color="#afdfa5"/><stop offset="0.5849" stop-color="#b4e0a7"/><stop offset="0.6038" stop-color="#b8e2a8"/><stop offset="0.6226" stop-color="#bde4aa"/><stop offset="0.6415" stop-color="#c2e6ab"/><stop offset="0.6604" stop-color="#c7e8ad"/><stop offset="0.6792" stop-color="#cdebaf"/><stop offset="0.6981" stop-color="#d2edb1"/><stop offset="0.7170" stop-color="#d8efb3"/><stop offset="0.7358" stop-color="#dff2b5"/><stop offset="0.7547" stop-color="#e6f5b7"/><stop offset="0.7736" stop-color="#edf8b9"/><stop offset="0.7925" stop-color="#f5fbbc"/><stop offset="0.8113" stop-color="#fdfebe"/><stop offset="0.8302" stop-color="#fff9b8"/><stop offset="0.8491" stop-color="#fff1af"/><stop offset="0.8679" stop-color="#fee8a5"/><stop offset="0.8868" stop-color="#fedf9a"/><stop offset="0.9057" stop-color="#fed58e"/><stop offset="0.9245" stop-color="#feca82"/><stop offset="0.9434" stop-color="#fdbf74"/><stop offset="0.9623" stop-color="#fdb266"/><stop offset="0.9811" stop-color="#f99d59"/><stop offset="1.0000" stop-color="#f1814c"/></linearGradient><linearGradient id="gb4" gradientUnits="userSpaceOnUse" x1="759.7" y1="0" x2="1236.7" y2="0"><stop offset="0.0000" stop-color="#2b83ba"/><stop offset="0.0189" stop-color="#2e85b9"/><stop offset="0.0377" stop-color="#3288b9"/><stop offset="0.0566" stop-color="#358ab8"/><stop offset="0.0755" stop-color="#398db8"/><stop offset="0.0943" stop-color="#3c8fb7"/><stop offset="0.1132" stop-color="#4092b6"/><stop offset="0.1321" stop-color="#4494b6"/><stop offset="0.1509" stop-color="#4797b5"/><stop offset="0.1698" stop-color="#4b9ab4"/><stop offset="0.1887" stop-color="#4f9cb4"/><stop offset="0.2075" stop-color="#539fb3"/><stop offset="0.2264" stop-color="#57a2b2"/><stop offset="0.2453" stop-color="#5ba5b2"/><stop offset="0.2642" stop-color="#5fa8b1"/><stop offset="0.2830" stop-color="#63abb0"/><stop offset="0.3019" stop-color="#68aeb0"/><stop offset="0.3208" stop-color="#6cb1af"/><stop offset="0.3396" stop-color="#71b4ae"/><stop offset="0.3585" stop-color="#75b7ad"/><stop offset="0.3774" stop-color="#7abbac"/><stop offset="0.3962" stop-color="#7fbeac"/><stop offset="0.4151" stop-color="#84c2ab"/><stop offset="0.4340" stop-color="#89c5aa"/><stop offset="0.4528" stop-color="#8fc9a9"/><stop offset="0.4717" stop-color="#94cda8"/><stop offset="0.4906" stop-color="#9ad1a7"/><stop offset="0.5094" stop-color="#9fd5a6"/><stop offset="0.5283" stop-color="#a5d9a5"/><stop offset="0.5472" stop-color="#abdda4"/><stop offset="0.5660" stop-color="#b0dfa6"/><stop offset="0.5849" stop-color="#b4e1a7"/><stop offset="0.6038" stop-color="#b9e3a8"/><stop offset="0.6226" stop-color="#bee5aa"/><stop offset="0.6415" stop-color="#c3e7ac"/><stop offset="0.6604" stop-color="#c8e9ad"/><stop offset="0.6792" stop-color="#cdebaf"/><stop offset="0.6981" stop-color="#d3edb1"/><stop offset="0.7170" stop-color="#d9f0b3"/><stop offset="0.7358" stop-color="#e0f2b5"/><stop offset="0.7547" stop-color="#e7f5b7"/><stop offset="0.7736" stop-color="#eef8ba"/><stop offset="0.7925" stop-color="#f6fbbc"/><stop offset="0.8113" stop-color="#feffbf"/><stop offset="0.8302" stop-color="#fff8b7"/><stop offset="0.8491" stop-color="#fff0ad"/><stop offset="0.8679" stop-color="#fee7a3"/><stop offset="0.8868" stop-color="#fedd98"/><stop offset="0.9057" stop-color="#fed38c"/><stop offset="0.9245" stop-color="#fec87f"/><stop offset="0.9434" stop-color="#fdbc71"/><stop offset="0.9623" stop-color="#fdaf63"/><stop offset="0.9811" stop-color="#f79756"/><stop offset="1.0000" stop-color="#f07b49"/></linearGradient><linearGradient id="gb5" gradientUnits="userSpaceOnUse" x1="759.7" y1="0" x2="1236.7" y2="0"><stop offset="0.0000" stop-color="#2b83ba"/><stop offset="0.0189" stop-color="#2e85b9"/><stop offset="0.0377" stop-color="#3288b9"/><stop offset="0.0566" stop-color="#358ab8"/><stop offset="0.0755" stop-color="#398db8"/><stop offset="0.0943" stop-color="#3c8fb7"/><stop offset="0.1132" stop-color="#4092b6"/><stop offset="0.1321" stop-color="#4494b6"/><stop offset="0.1509" stop-color="#4897b5"/><stop offset="0.1698" stop-color="#4b9ab4"/><stop offset="0.1887" stop-color="#4f9db4"/><stop offset="0.2075" stop-color="#539fb3"/><stop offset="0.2264" stop-color="#57a2b2"/><stop offset="0.2453" stop-color="#5ba5b2"/><stop offset="0.2642" stop-color="#5fa8b1"/><stop offset="0.2830" stop-color="#64abb0"/><stop offset="0.3019" stop-color="#68aeb0"/><stop offset="0.3208" stop-color="#6cb1af"/><stop offset="0.3396" stop-color="#71b4ae"/><stop offset="0.3585" stop-color="#76b7ad"/><stop offset="0.3774" stop-color="#7abbac"/><stop offset="0.3962" stop-color="#7fbeab"/><stop offset="0.4151" stop-color="#84c2ab"/><stop offset="0.4340" stop-color="#8ac6aa"/><stop offset="0.4528" stop-color="#8fc9a9"/><stop offset="0.4717" stop-color="#94cda8"/><stop offset="0.4906" stop-color="#9ad1a7"/><stop offset="0.5094" stop-color="#a0d5a6"/><stop offset="0.5283" stop-color="#a6d9a5"/><stop offset="0.5472" stop-color="#acdda4"/><stop offset="0.5660" stop-color="#b0dfa6"/><stop offset="0.5849" stop-color="#b5e1a7"/><stop offset="0.6038" stop-color="#b9e3a9"/><stop offset="0.6226" stop-color="#bee5aa"/><stop offset="0.6415" stop-color="#c3e7ac"/><stop offset="0.6604" stop-color="#c8e9ad"/><stop offset="0.6792" stop-color="#ceebaf"/><stop offset="0.6981" stop-color="#d4edb1"/><stop offset="0.7170" stop-color="#daf0b3"/><stop offset="0.7358" stop-color="#e0f3b5"/><stop offset="0.7547" stop-color="#e7f5b7"/><stop offset="0.7736" stop-color="#eff8ba"/><stop offset="0.7925" stop-color="#f7fcbc"/><stop offset="0.8113" stop-color="#ffffbf"/><stop offset="0.8302" stop-color="#fff7b6"/><stop offset="0.8491" stop-color="#ffefac"/><stop offset="0.8679" stop-color="#fee6a2"/><stop offset="0.8868" stop-color="#fedc96"/><stop offset="0.9057" stop-color="#fed28a"/><stop offset="0.9245" stop-color="#fec77e"/><stop offset="0.9434" stop-color="#fdbb70"/><stop offset="0.9623" stop-color="#fdae61"/><stop offset="0.9811" stop-color="#f69455"/><stop offset="1.0000" stop-color="#ef7747"/></linearGradient><linearGradient id="gb6" gradientUnits="userSpaceOnUse" x1="759.7" y1="0" x2="1236.7" y2="0"><stop offset="0.0000" stop-color="#2b83ba"/><stop offset="0.0189" stop-color="#2e85b9"/><stop offset="0.0377" stop-color="#3288b9"/><stop offset="0.0566" stop-color="#358ab8"/><stop offset="0.0755" stop-color="#398db8"/><stop offset="0.0943" stop-color="#3d8fb7"/><stop offset="0.1132" stop-color="#4092b6"/><stop offset="0.1321" stop-color="#4495b6"/><stop offset="0.1509" stop-color="#4897b5"/><stop offset="0.1698" stop-color="#4c9ab4"/><stop offset="0.1887" stop-color="#4f9db4"/><stop offset="0.2075" stop-color="#539fb3"/><stop offset="0.2264" stop-color="#57a2b2"/><stop offset="0.2453" stop-color="#5ba5b2"/><stop offset="0.2642" stop-color="#5fa8b1"/><stop offset="0.2830" stop-color="#64abb0"/><stop offset="0.3019" stop-color="#68aeb0"/><stop offset="0.3208" stop-color="#6db1af"/><stop offset="0.3396" stop-color="#71b4ae"/><stop offset="0.3585" stop-color="#76b8ad"/><stop offset="0.3774" stop-color="#7bbbac"/><stop offset="0.3962" stop-color="#7fbeab"/><stop offset="0.4151" stop-color="#85c2ab"/><stop offset="0.4340" stop-color="#8ac6aa"/><stop offset="0.4528" stop-color="#8fc9a9"/><stop offset="0.4717" stop-color="#95cda8"/><stop offset="0.4906" stop-color="#9ad1a7"/><stop offset="0.5094" stop-color="#a0d5a6"/><stop offset="0.5283" stop-color="#a6daa5"/><stop offset="0.5472" stop-color="#acdda4"/><stop offset="0.5660" stop-color="#b0dfa6"/><stop offset="0.5849" stop-color="#b5e1a7"/><stop offset="0.6038" stop-color="#b9e3a9"/><stop offset="0.6226" stop-color="#bee5aa"/><stop offset="0.6415" stop-color="#c3e7ac"/><stop offset="0.6604" stop-color="#c9e9ad"/><stop offset="0.6792" stop-color="#ceebaf"/><stop offset="0.6981" stop-color="#d4eeb1"/><stop offset="0.7170" stop-color="#daf0b3"/><stop offset="0.7358" stop-color="#e1f3b5"/><stop offset="0.7547" stop-color="#e8f6b8"/><stop offset="0.7736" stop-color="#eff9ba"/><stop offset="0.7925" stop-color="#f7fcbc"/><stop offset="0.8113" stop-color="#ffffbf"/><stop offset="0.8302" stop-color="#fff7b6"/><stop offset="0.8491" stop-color="#ffeeac"/><stop offset="0.8679" stop-color="#fee5a1"/><stop offset="0.8868" stop-color="#fedc96"/><stop offset="0.9057" stop-color="#fed18a"/><stop offset="0.9245" stop-color="#fec67d"/><stop offset="0.9434" stop-color="#fdba6f"/><stop offset="0.9623" stop-color="#fdad60"/><stop offset="0.9811" stop-color="#f69354"/><stop offset="1.0000" stop-color="#ef7547"/></linearGradient><linearGradient id="gb7" gradientUnits="userSpaceOnUse" x1="759.7" y1="0" x2="1236.7" y2="0"><stop offset="0.0000" stop-color="#2b83ba"/><stop offset="0.0189" stop-color="#2e85b9"/><stop offset="0.0377" stop-color="#3288b9"/><stop offset="0.0566" stop-color="#358ab8"/><stop offset="0.0755" stop-color="#398db8"/><stop offset="0.0943" stop-color="#3d8fb7"/><stop offset="0.1132" stop-color="#4092b6"/><stop offset="0.1321" stop-color="#4495b6"/><stop offset="0.1509" stop-color="#4897b5"/><stop offset="0.1698" stop-color="#4c9ab4"/><stop offset="0.1887" stop-color="#4f9db4"/><stop offset="0.2075" stop-color="#539fb3"/><stop offset="0.2264" stop-color="#57a2b2"/><stop offset="0.2453" stop-color="#5ba5b2"/><stop offset="0.2642" stop-color="#60a8b1"/><stop offset="0.2830" stop-color="#64abb0"/><stop offset="0.3019" stop-color="#68aeaf"/><stop offset="0.3208" stop-color="#6db1af"/><stop offset="0.3396" stop-color="#71b4ae"/><stop offset="0.3585" stop-color="#76b8ad"/><stop offset="0.3774" stop-color="#7bbbac"/><stop offset="0.3962" stop-color="#80bfab"/><stop offset="0.4151" stop-color="#85c2ab"/><stop offset="0.4340" stop-color="#8ac6aa"/><stop offset="0.4528" stop-color="#8fcaa9"/><stop offset="0.4717" stop-color="#95cda8"/><stop offset="0.4906" stop-color="#9ad1a7"/><stop offset="0.5094" stop-color="#a0d5a6"/><stop offset="0.5283" stop-color="#a6daa5"/><stop offset="0.5472" stop-color="#acdda4"/><stop offset="0.5660" stop-color="#b0dfa6"/><stop offset="0.5849" stop-color="#b5e1a7"/><stop offset="0.6038" stop-color="#bae3a9"/><stop offset="0.6226" stop-color="#bee5aa"/><stop offset="0.6415" stop-color="#c4e7ac"/><stop offset="0.6604" stop-color="#c9e9ae"/><stop offset="0.6792" stop-color="#ceebaf"/><stop offset="0.6981" stop-color="#d4eeb1"/><stop offset="0.7170" stop-color="#daf0b3"/><stop offset="0.7358" stop-color="#e1f3b5"/><stop offset="0.7547" stop-color="#e8f6b8"/><stop offset="0.7736" stop-color="#eff9ba"/><stop offset="0.7925" stop-color="#f7fcbc"/><stop offset="0.8113" stop-color="#ffffbf"/><stop offset="0.8302" stop-color="#fff7b5"/><stop offset="0.8491" stop-color="#ffeeab"/><stop offset="0.8679" stop-color="#fee5a1"/><stop offset="0.8868" stop-color="#fedb95"/><stop offset="0.9057" stop-color="#fed189"/><stop offset="0.9245" stop-color="#fec67c"/><stop offset="0.9434" stop-color="#fdb96e"/><stop offset="0.9623" stop-color="#fcab60"/><stop offset="0.9811" stop-color="#f69153"/><stop offset="1.0000" stop-color="#ee7346"/></linearGradient><linearGradient id="gb8" gradientUnits="userSpaceOnUse" x1="759.7" y1="0" x2="1236.7" y2="0"><stop offset="0.0000" stop-color="#2b83ba"/><stop offset="0.0189" stop-color="#2f86b9"/><stop offset="0.0377" stop-color="#3288b9"/><stop offset="0.0566" stop-color="#368ab8"/><stop offset="0.0755" stop-color="#398db8"/><stop offset="0.0943" stop-color="#3d8fb7"/><stop offset="0.1132" stop-color="#4092b6"/><stop offset="0.1321" stop-color="#4495b6"/><stop offset="0.1509" stop-color="#4897b5"/><stop offset="0.1698" stop-color="#4c9ab4"/><stop offset="0.1887" stop-color="#509db4"/><stop offset="0.2075" stop-color="#549fb3"/><stop offset="0.2264" stop-color="#58a2b2"/><stop offset="0.2453" stop-color="#5ca5b2"/><stop offset="0.2642" stop-color="#60a8b1"/><stop offset="0.2830" stop-color="#64abb0"/><stop offset="0.3019" stop-color="#68aeaf"/><stop offset="0.3208" stop-color="#6db1af"/><stop offset="0.3396" stop-color="#71b5ae"/><stop offset="0.3585" stop-color="#76b8ad"/><stop offset="0.3774" stop-color="#7bbbac"/><stop offset="0.3962" stop-color="#80bfab"/><stop offset="0.4151" stop-color="#85c2ab"/><stop offset="0.4340" stop-color="#8ac6aa"/><stop offset="0.4528" stop-color="#90caa9"/><stop offset="0.4717" stop-color="#95cea8"/><stop offset="0.4906" stop-color="#9bd2a7"/><stop offset="0.5094" stop-color="#a1d6a6"/><stop offset="0.5283" stop-color="#a7daa5"/><stop offset="0.5472" stop-color="#acdea4"/><stop offset="0.5660" stop-color="#b1dfa6"/><stop offset="0.5849" stop-color="#b5e1a7"/><stop offset="0.6038" stop-color="#bae3a9"/><stop offset="0.6226" stop-color="#bfe5aa"/><stop offset="0.6415" stop-color="#c4e7ac"/><stop offset="0.6604" stop-color="#c9e9ae"/><stop offset="0.6792" stop-color="#cfebaf"/><stop offset="0.6981" stop-color="#d5eeb1"/><stop offset="0.7170" stop-color="#dbf0b3"/><stop offset="0.7358" stop-color="#e2f3b6"/><stop offset="0.7547" stop-color="#e9f6b8"/><stop offset="0.7736" stop-color="#f0f9ba"/><stop offset="0.7925" stop-color="#f8fcbd"/><stop offset="0.8113" stop-color="#fffebe"/><stop offset="0.8302" stop-color="#fff6b5"/><stop offset="0.8491" stop-color="#ffedab"/><stop offset="0.8679" stop-color="#fee4a0"/><stop offset="0.8868" stop-color="#feda94"/><stop offset="0.9057" stop-color="#fed088"/><stop offset="0.9245" stop-color="#fec57b"/><stop offset="0.9434" stop-color="#fdb86d"/><stop offset="0.9623" stop-color="#fca95f"/><stop offset="0.9811" stop-color="#f58e52"/><stop offset="1.0000" stop-color="#ed7145"/></linearGradient><linearGradient id="gb9" gradientUnits="userSpaceOnUse" x1="759.7" y1="0" x2="1236.7" y2="0"><stop offset="0.0000" stop-color="#2b83ba"/><stop offset="0.0189" stop-color="#2f86b9"/><stop offset="0.0377" stop-color="#3288b9"/><stop offset="0.0566" stop-color="#368ab8"/><stop offset="0.0755" stop-color="#398db8"/><stop offset="0.0943" stop-color="#3d90b7"/><stop offset="0.1132" stop-color="#4192b6"/><stop offset="0.1321" stop-color="#4495b6"/><stop offset="0.1509" stop-color="#4897b5"/><stop offset="0.1698" stop-color="#4c9ab4"/><stop offset="0.1887" stop-color="#509db4"/><stop offset="0.2075" stop-color="#54a0b3"/><stop offset="0.2264" stop-color="#58a2b2"/><stop offset="0.2453" stop-color="#5ca5b2"/><stop offset="0.2642" stop-color="#60a8b1"/><stop offset="0.2830" stop-color="#64abb0"/><stop offset="0.3019" stop-color="#69aeaf"/><stop offset="0.3208" stop-color="#6db1af"/><stop offset="0.3396" stop-color="#72b5ae"/><stop offset="0.3585" stop-color="#76b8ad"/><stop offset="0.3774" stop-color="#7bbbac"/><stop offset="0.3962" stop-color="#80bfab"/><stop offset="0.4151" stop-color="#85c2aa"/><stop offset="0.4340" stop-color="#8bc6aa"/><stop offset="0.4528" stop-color="#90caa9"/><stop offset="0.4717" stop-color="#95cea8"/><stop offset="0.4906" stop-color="#9bd2a7"/><stop offset="0.5094" stop-color="#a1d6a6"/><stop offset="0.5283" stop-color="#a7daa5"/><stop offset="0.5472" stop-color="#addea5"/><stop offset="0.5660" stop-color="#b1dfa6"/><stop offset="0.5849" stop-color="#b5e1a7"/><stop offset="0.6038" stop-color="#bae3a9"/><stop offset="0.6226" stop-color="#bfe5aa"/><stop offset="0.6415" stop-color="#c4e7ac"/><stop offset="0.6604" stop-color="#c9e9ae"/><stop offset="0.6792" stop-color="#cfecb0"/><stop offset="0.6981" stop-color="#d5eeb1"/><stop offset="0.7170" stop-color="#dbf1b3"/><stop offset="0.7358" stop-color="#e2f3b6"/><stop offset="0.7547" stop-color="#e9f6b8"/><stop offset="0.7736" stop-color="#f1f9ba"/><stop offset="0.7925" stop-color="#f8fcbd"/><stop offset="0.8113" stop-color="#fffebd"/><stop offset="0.8302" stop-color="#fff5b4"/><stop offset="0.8491" stop-color="#ffedaa"/><stop offset="0.8679" stop-color="#fee49f"/><stop offset="0.8868" stop-color="#feda94"/><stop offset="0.9057" stop-color="#fecf88"/><stop offset="0.9245" stop-color="#fec47a"/><stop offset="0.9434" stop-color="#fdb86c"/><stop offset="0.9623" stop-color="#fba75e"/><stop offset="0.9811" stop-color="#f58d52"/><stop offset="1.0000" stop-color="#ed6f44"/></linearGradient><linearGradient id="gcb" x1="0" y1="0" x2="0" y2="1"><stop offset="0.00" stop-color="#d7191c"/><stop offset="0.25" stop-color="#fdae61"/><stop offset="0.50" stop-color="#ffffbf"/><stop offset="0.75" stop-color="#abdda4"/><stop offset="1.00" stop-color="#2b83ba"/></linearGradient></defs><rect width="1484" height="584" fill="#fff"/><clipPath id="ca"><rect x="130.0" y="20.6" width="475.0" height="455.4"/></clipPath>
<clipPath id="cb"><rect x="760.7" y="20.6" width="475.0" height="455.4"/></clipPath>
<g clip-path="url(#ca)"><rect x="129.0" y="134" width="477.0" height="342" fill="url(#ga9)"/><rect x="129.0" y="100" width="477.0" height="34.6" fill="url(#ga8)"/><rect x="129.0" y="75" width="477.0" height="25.6" fill="url(#ga7)"/><rect x="129.0" y="60" width="477.0" height="15.6" fill="url(#ga6)"/><rect x="129.0" y="47" width="477.0" height="13.6" fill="url(#ga5)"/><rect x="129.0" y="41" width="477.0" height="6.6" fill="url(#ga4)"/><rect x="129.0" y="35" width="477.0" height="6.6" fill="url(#ga3)"/><rect x="129.0" y="30" width="477.0" height="5.6" fill="url(#ga2)"/><rect x="129.0" y="25" width="477.0" height="5.6" fill="url(#ga1)"/><rect x="129.0" y="20" width="477.0" height="5.6" fill="url(#ga0)"/>
<g fill="none" stroke="#3e3e3e" stroke-width="1.65"><path d="M237.6 20.6 L237.6 21.0 L237.2 27.0 L236.8 33.0 L236.5 39.0 L236.1 45.0 L236.0 47.0 L235.9 51.0 L235.9 57.0 L235.8 63.0 L235.7 69.0 L235.6 75.0 L235.6 81.0 L235.5 87.0 L235.4 93.0 L235.3 99.0 L235.3 105.0 L235.2 111.0 L235.1 117.0 L235.0 123.0 L235.0 129.0 L234.9 134.0 L234.9 135.0 L235.0 364.7"/><path d="M235.0 406.1 L235.0 476.0"/><path d="M373.2 20.6 L373.1 21.0 L372.2 27.0 L371.2 33.0 L370.2 39.0 L369.2 45.0 L368.9 47.0 L368.8 51.0 L368.8 57.0 L368.7 63.0 L368.6 69.0 L368.5 75.0 L368.4 81.0 L368.3 87.0 L368.3 91.1"/><path d="M367.7 132.7 L367.7 134.0 L367.7 135.0 L367.6 476.0"/><path d="M466.8 20.6 L466.7 21.0 L465.7 27.0 L464.6 33.0 L463.5 39.0 L462.5 45.0 L462.1 47.0 L462.0 51.0 L461.8 57.0 L461.6 63.0 L461.5 69.0 L461.3 75.0 L461.1 81.0 L461.0 87.0 L460.8 93.0 L460.6 99.0 L460.4 105.0 L460.3 111.0 L460.1 117.0 L459.9 123.0 L459.7 129.0 L459.6 134.0 L459.6 135.0 L459.7 300.4"/><path d="M459.7 341.9 L459.8 476.0"/><path d="M532.0 20.6 L531.9 21.0 L530.5 27.0 L529.1 33.0 L527.7 39.0 L526.3 45.0 L525.8 47.0 L525.7 51.0 L525.4 57.0 L525.2 63.0 L525.0 69.0 L524.8 75.0 L524.6 81.0 L524.4 87.0 L524.2 93.0 L523.9 99.0 L523.7 105.0 L523.5 111.0 L523.3 117.0 L523.1 123.0 L522.9 129.0 L522.7 134.0 L522.7 135.0 L522.7 153.0"/><path d="M522.7 195.0 L522.9 476.0"/><path d="M578.6 20.6 L578.5 21.0 L577.2 26.9"/><path d="M569.4 68.7 L569.4 69.0 L569.3 69.4 L569.2 75.0 L569.0 81.0 L568.9 87.0 L568.8 93.0 L568.7 99.0 L568.5 105.0 L568.4 111.0 L568.3 117.0 L568.1 123.0 L568.0 129.0 L567.9 134.0 L567.9 135.0 L567.7 476.0"/><path d="M605.4 39.0 L604.0 45.0 L603.6 47.0 L603.5 51.0 L603.2 57.0 L603.0 63.0 L602.8 69.0 L602.6 75.0 L602.3 81.0 L602.1 87.0 L601.9 93.0 L601.7 99.0 L601.5 105.0 L601.2 111.0 L601.0 117.0 L600.8 123.0 L600.6 129.0 L600.4 134.0 L600.4 135.0 L600.0 476.0"/></g></g>
<g clip-path="url(#cb)"><rect x="759.7" y="134" width="477.0" height="342" fill="url(#gb9)"/><rect x="759.7" y="100" width="477.0" height="34.6" fill="url(#gb8)"/><rect x="759.7" y="75" width="477.0" height="25.6" fill="url(#gb7)"/><rect x="759.7" y="60" width="477.0" height="15.6" fill="url(#gb6)"/><rect x="759.7" y="47" width="477.0" height="13.6" fill="url(#gb5)"/><rect x="759.7" y="41" width="477.0" height="6.6" fill="url(#gb4)"/><rect x="759.7" y="35" width="477.0" height="6.6" fill="url(#gb3)"/><rect x="759.7" y="30" width="477.0" height="5.6" fill="url(#gb2)"/><rect x="759.7" y="25" width="477.0" height="5.6" fill="url(#gb1)"/><rect x="759.7" y="20" width="477.0" height="5.6" fill="url(#gb0)"/>
<g fill="none" stroke="#3e3e3e" stroke-width="1.65"><path d="M856.4 20.6 L856.4 21.0 L855.6 27.0 L854.9 33.0 L854.2 39.0 L853.5 45.0 L853.3 47.0 L853.3 51.0 L853.2 57.0 L853.1 63.0 L853.0 69.0 L853.0 75.0 L852.9 81.0 L852.8 87.0 L852.8 93.0 L852.7 99.0 L852.6 105.0 L852.6 111.0 L852.5 117.0 L852.4 123.0 L852.4 129.0 L852.3 134.0 L852.3 135.0 L852.1 369.3"/><path d="M852.1 410.8 L852.0 476.0"/><path d="M997.7 20.6 L997.6 21.0 L996.6 27.0 L995.5 33.0 L994.4 39.0 L993.4 45.0 L993.0 47.0 L992.9 51.0 L992.8 57.0 L992.7 63.0 L992.6 69.0 L992.5 75.0 L992.4 81.0 L992.3 87.0 L992.2 91.1"/><path d="M991.4 132.7 L991.4 134.0 L991.4 135.0 L991.0 476.0"/><path d="M1091.4 20.6 L1091.3 21.0 L1090.1 27.0 L1089.0 33.0 L1087.8 39.0 L1086.6 45.0 L1086.2 47.0 L1086.1 51.0 L1086.0 57.0 L1085.8 63.0 L1085.7 69.0 L1085.6 75.0 L1085.4 81.0 L1085.3 87.0 L1085.1 93.0 L1085.0 99.0 L1084.9 105.0 L1084.7 111.0 L1084.6 117.0 L1084.5 123.0 L1084.3 129.0 L1084.2 134.0 L1084.2 135.0 L1084.1 300.4"/><path d="M1084.1 341.9 L1084.0 476.0"/><path d="M1153.0 20.6 L1152.9 21.0 L1151.6 27.0 L1150.4 33.0 L1149.1 39.0 L1147.8 45.0 L1147.4 47.0 L1147.3 51.0 L1147.2 57.0 L1147.0 63.0 L1146.9 69.0 L1146.8 75.0 L1146.6 81.0 L1146.5 87.0 L1146.3 93.0 L1146.2 99.0 L1146.1 105.0 L1145.9 111.0 L1145.8 117.0 L1145.7 123.0 L1145.5 129.0 L1145.4 134.0 L1145.4 135.0 L1145.4 145.8"/><path d="M1145.3 186.7 L1145.0 476.0"/><path d="M1200.2 20.6 L1200.1 21.0 L1198.3 27.0 L1196.5 33.0 L1194.8 39.0 L1193.0 45.0 L1192.4 47.0 L1192.3 51.0 L1192.2 57.0 L1192.0 63.0 L1191.9 69.0 L1191.8 75.0 L1191.6 81.0 L1191.5 87.0 L1191.3 93.0 L1191.2 99.0 L1191.1 105.0 L1190.9 111.0 L1190.8 117.0 L1190.7 123.0 L1190.5 129.0 L1190.4 134.0 L1190.4 135.0 L1190.1 417.9"/><path d="M1190.0 458.9 L1190.0 476.0"/><path d="M1234.1 20.6 L1234.0 21.0 L1232.1 27.0 L1230.2 33.0 L1228.4 39.0 L1226.5 45.0 L1225.9 47.0 L1225.8 51.0 L1225.6 57.0 L1225.4 63.0 L1225.3 69.0 L1225.1 75.0 L1224.9 81.0 L1224.8 87.0 L1224.6 93.0 L1224.4 99.0 L1224.2 105.0 L1224.1 111.0 L1223.9 117.0 L1223.7 123.0 L1223.5 129.0 L1223.4 134.0 L1223.4 135.0 L1223.5 476.0"/></g></g>
<rect x="130.0" y="20.6" width="475.0" height="455.4" fill="none" stroke="#000" stroke-width="2"/>
<path d="M129.0 20.60h-8M129.0 111.68h-8M129.0 202.76h-8M129.0 293.84h-8M129.0 384.92h-8M129.0 476.00h-8M130.00 477.0v8.4M236.74 477.0v8.4M343.48 477.0v8.4M450.22 477.0v8.4M556.97 477.0v8.4" stroke="#000" stroke-width="2" fill="none"/>
<path d="M129.0 84.26h-4M129.0 68.22h-4M129.0 56.84h-4M129.0 48.02h-4M129.0 40.81h-4M129.0 34.71h-4M129.0 29.43h-4M129.0 24.77h-4M129.0 175.34h-4M129.0 159.30h-4M129.0 147.92h-4M129.0 139.10h-4M129.0 131.89h-4M129.0 125.79h-4M129.0 120.51h-4M129.0 115.85h-4M129.0 266.42h-4M129.0 250.38h-4M129.0 239.00h-4M129.0 230.18h-4M129.0 222.97h-4M129.0 216.87h-4M129.0 211.59h-4M129.0 206.93h-4M129.0 357.50h-4M129.0 341.46h-4M129.0 330.08h-4M129.0 321.26h-4M129.0 314.05h-4M129.0 307.95h-4M129.0 302.67h-4M129.0 298.01h-4M129.0 448.58h-4M129.0 432.54h-4M129.0 421.16h-4M129.0 412.34h-4M129.0 405.13h-4M129.0 399.03h-4M129.0 393.75h-4M129.0 389.09h-4M183.37 477.0v4M290.11 477.0v4M396.85 477.0v4M503.60 477.0v4" stroke="#000" stroke-width="1.9" fill="none"/>
<rect x="760.7" y="20.6" width="475.0" height="455.4" fill="none" stroke="#000" stroke-width="2"/>
<path d="M759.7 20.60h-8M759.7 111.68h-8M759.7 202.76h-8M759.7 293.84h-8M759.7 384.92h-8M759.7 476.00h-8M760.70 477.0v8.4M867.44 477.0v8.4M974.18 477.0v8.4M1080.92 477.0v8.4M1187.67 477.0v8.4" stroke="#000" stroke-width="2" fill="none"/>
<path d="M759.7 84.26h-4M759.7 68.22h-4M759.7 56.84h-4M759.7 48.02h-4M759.7 40.81h-4M759.7 34.71h-4M759.7 29.43h-4M759.7 24.77h-4M759.7 175.34h-4M759.7 159.30h-4M759.7 147.92h-4M759.7 139.10h-4M759.7 131.89h-4M759.7 125.79h-4M759.7 120.51h-4M759.7 115.85h-4M759.7 266.42h-4M759.7 250.38h-4M759.7 239.00h-4M759.7 230.18h-4M759.7 222.97h-4M759.7 216.87h-4M759.7 211.59h-4M759.7 206.93h-4M759.7 357.50h-4M759.7 341.46h-4M759.7 330.08h-4M759.7 321.26h-4M759.7 314.05h-4M759.7 307.95h-4M759.7 302.67h-4M759.7 298.01h-4M759.7 448.58h-4M759.7 432.54h-4M759.7 421.16h-4M759.7 412.34h-4M759.7 405.13h-4M759.7 399.03h-4M759.7 393.75h-4M759.7 389.09h-4M814.07 477.0v4M920.81 477.0v4M1027.55 477.0v4M1134.30 477.0v4" stroke="#000" stroke-width="1.9" fill="none"/>
<rect x="1303.0" y="20.6" width="44.200000000000045" height="455.2" fill="url(#gcb)" stroke="#000" stroke-width="1.8"/>
<path d="M1348.1000000000001 54.35h8M1348.1000000000001 118.98h8M1348.1000000000001 183.61h8M1348.1000000000001 248.24h8M1348.1000000000001 312.87h8M1348.1000000000001 377.50h8M1348.1000000000001 442.13h8" stroke="#000" stroke-width="2" fill="none"/>
<g font-family='"Liberation Sans", "DejaVu Sans", sans-serif' font-weight="700" fill="#000" stroke="#000" stroke-linejoin="round">
<text transform="translate(10.55 41.20) scale(0.8648 1)" font-size="50.42" stroke-width="0.66">a</text>
<text transform="translate(59.89 34.00) scale(1.0377 1)" font-size="36.22" stroke-width="0.47">10</text>
<text transform="translate(101.85 17.30) scale(0.9045 1)" font-size="24.94" stroke-width="0.32">1</text>
<text transform="translate(59.89 125.08) scale(1.0377 1)" font-size="36.22" stroke-width="0.47">10</text>
<text transform="translate(101.40 108.38) scale(0.9830 1)" font-size="24.94" stroke-width="0.32">0</text>
<text transform="translate(51.47 216.66) scale(1.0431 1)" font-size="36.22" stroke-width="0.47">10</text>
<text transform="translate(93.01 199.46) scale(0.9662 1)" font-size="24.94" stroke-width="0.32">-1</text>
<text transform="translate(51.47 307.74) scale(1.0431 1)" font-size="36.22" stroke-width="0.47">10</text>
<text transform="translate(92.68 290.54) scale(1.0047 1)" font-size="24.94" stroke-width="0.32">-2</text>
<text transform="translate(51.47 398.82) scale(1.0431 1)" font-size="36.22" stroke-width="0.47">10</text>
<text transform="translate(92.69 381.62) scale(0.9903 1)" font-size="24.94" stroke-width="0.32">-3</text>
<text transform="translate(51.47 489.90) scale(1.0431 1)" font-size="36.22" stroke-width="0.47">10</text>
<text transform="translate(92.69 472.70) scale(0.9870 1)" font-size="24.94" stroke-width="0.32">-4</text>
<text transform="translate(109.77 521.00) scale(1.0210 1)" font-size="36.64" stroke-width="0.48">90</text>
<text transform="translate(216.51 521.00) scale(1.0210 1)" font-size="36.64" stroke-width="0.48">70</text>
<text transform="translate(323.85 521.00) scale(1.0059 1)" font-size="36.64" stroke-width="0.48">50</text>
<text transform="translate(430.59 521.00) scale(1.0059 1)" font-size="36.64" stroke-width="0.48">30</text>
<text transform="translate(536.73 521.00) scale(0.9931 1)" font-size="36.64" stroke-width="0.48">10</text>
<text transform="translate(143.83 575.80) scale(0.9762 1)" font-size="39.74" stroke-width="0.52">Dielectric</text>
<text transform="translate(329.86 575.80) scale(0.9650 1)" font-size="39.74" stroke-width="0.52">Constant</text>
<text transform="translate(508.06 575.80) scale(1.0899 1)" font-size="37.77" stroke-width="0.49">ε</text>
<text transform="translate(529.84 578.00) scale(0.6745 1)" font-size="46.36" stroke-width="0.60">'</text>
<text transform="translate(551.29 575.80) scale(0.9735 1)" font-size="41.03" stroke-width="0.53">[-]</text>
<text transform="translate(31.20 403.40) rotate(-90) scale(0.8183 1)" font-size="40.30" stroke-width="0.52">Loss</text>
<text transform="translate(31.20 313.71) rotate(-90) scale(0.9408 1)" font-size="40.30" stroke-width="0.52">Factor</text>
<text transform="translate(31.20 186.83) rotate(-90) scale(1.0778 1)" font-size="37.77" stroke-width="0.49">ε</text>
<text transform="translate(32.60 165.39) rotate(-90) scale(0.8829 1)" font-size="45.52" stroke-width="0.59">''</text>
<text transform="translate(30.50 134.33) rotate(-90) scale(0.9805 1)" font-size="41.30" stroke-width="0.54">[-]</text>
<text transform="translate(637.84 41.20) scale(0.9178 1)" font-size="52.24" stroke-width="0.68">b</text>
<text transform="translate(693.82 33.20) scale(1.0189 1)" font-size="34.67" stroke-width="0.45">10</text>
<text transform="translate(732.87 17.70) scale(0.9422 1)" font-size="23.53" stroke-width="0.31">1</text>
<text transform="translate(693.82 124.28) scale(1.0189 1)" font-size="34.67" stroke-width="0.45">10</text>
<text transform="translate(732.82 108.78) scale(0.9908 1)" font-size="23.53" stroke-width="0.31">0</text>
<text transform="translate(685.80 215.76) scale(1.0275 1)" font-size="34.67" stroke-width="0.45">10</text>
<text transform="translate(725.05 199.86) scale(0.9536 1)" font-size="23.53" stroke-width="0.31">-1</text>
<text transform="translate(685.80 306.84) scale(1.0275 1)" font-size="34.67" stroke-width="0.45">10</text>
<text transform="translate(724.93 290.94) scale(0.9791 1)" font-size="23.53" stroke-width="0.31">-2</text>
<text transform="translate(685.80 397.92) scale(1.0275 1)" font-size="34.67" stroke-width="0.45">10</text>
<text transform="translate(724.94 382.02) scale(0.9689 1)" font-size="23.53" stroke-width="0.31">-3</text>
<text transform="translate(685.80 489.00) scale(1.0275 1)" font-size="34.67" stroke-width="0.45">10</text>
<text transform="translate(724.95 473.10) scale(0.9535 1)" font-size="23.53" stroke-width="0.31">-4</text>
<text transform="translate(741.52 520.40) scale(0.9931 1)" font-size="35.93" stroke-width="0.47">90</text>
<text transform="translate(848.26 520.40) scale(0.9931 1)" font-size="35.93" stroke-width="0.47">70</text>
<text transform="translate(955.57 520.40) scale(0.9784 1)" font-size="35.93" stroke-width="0.47">50</text>
<text transform="translate(1062.31 520.40) scale(0.9784 1)" font-size="35.93" stroke-width="0.47">30</text>
<text transform="translate(1167.97 520.40) scale(0.9908 1)" font-size="35.93" stroke-width="0.47">10</text>
<text transform="translate(774.53 575.20) scale(0.9762 1)" font-size="39.74" stroke-width="0.52">Dielectric</text>
<text transform="translate(960.56 575.20) scale(0.9650 1)" font-size="39.74" stroke-width="0.52">Constant</text>
<text transform="translate(1138.76 575.20) scale(1.0899 1)" font-size="37.77" stroke-width="0.49">ε</text>
<text transform="translate(1160.54 577.40) scale(0.6745 1)" font-size="46.36" stroke-width="0.60">'</text>
<text transform="translate(1181.99 575.20) scale(0.9735 1)" font-size="41.03" stroke-width="0.53">[-]</text>
<text transform="translate(665.10 403.40) rotate(-90) scale(0.8183 1)" font-size="40.30" stroke-width="0.52">Loss</text>
<text transform="translate(665.10 313.71) rotate(-90) scale(0.9408 1)" font-size="40.30" stroke-width="0.52">Factor</text>
<text transform="translate(665.10 186.83) rotate(-90) scale(1.0778 1)" font-size="37.77" stroke-width="0.49">ε</text>
<text transform="translate(666.50 165.39) rotate(-90) scale(0.8829 1)" font-size="45.52" stroke-width="0.59">''</text>
<text transform="translate(664.40 134.33) rotate(-90) scale(0.9805 1)" font-size="41.30" stroke-width="0.54">[-]</text>
<text transform="translate(213.41 397.50) scale(1.0003 1)" font-size="31.99" stroke-width="0.42">2.0</text>
<text transform="translate(346.17 124.10) scale(0.9287 1)" font-size="32.27" stroke-width="0.42">2.1</text>
<text transform="translate(438.23 333.30) scale(0.9795 1)" font-size="32.13" stroke-width="0.42">2.2</text>
<text transform="translate(500.83 186.40) scale(0.9537 1)" font-size="32.83" stroke-width="0.43">2.3</text>
<text transform="translate(549.07 60.10) scale(0.9288 1)" font-size="32.55" stroke-width="0.42">2.4</text>
<text transform="translate(830.88 402.20) scale(0.9624 1)" font-size="32.13" stroke-width="0.42">1.9</text>
<text transform="translate(970.23 124.10) scale(0.9703 1)" font-size="32.27" stroke-width="0.42">2.0</text>
<text transform="translate(1063.06 333.30) scale(0.9492 1)" font-size="32.13" stroke-width="0.42">2.1</text>
<text transform="translate(1123.94 178.10) scale(0.9871 1)" font-size="31.28" stroke-width="0.41">2.2</text>
<text transform="translate(1168.23 450.30) scale(0.9922 1)" font-size="31.43" stroke-width="0.41">2.3</text>
<text transform="translate(1373.03 67.85) scale(1.0070 1)" font-size="34.95" stroke-width="0.45">2.5</text>
<text transform="translate(1373.05 132.48) scale(0.9839 1)" font-size="34.95" stroke-width="0.45">2.4</text>
<text transform="translate(1373.03 197.11) scale(1.0070 1)" font-size="34.95" stroke-width="0.45">2.3</text>
<text transform="translate(1373.03 261.74) scale(1.0070 1)" font-size="34.95" stroke-width="0.45">2.2</text>
<text transform="translate(1373.03 326.37) scale(1.0070 1)" font-size="34.95" stroke-width="0.45">2.1</text>
<text transform="translate(1373.01 391.00) scale(1.0189 1)" font-size="34.95" stroke-width="0.45">2.0</text>
<text transform="translate(1373.13 455.63) scale(1.0048 1)" font-size="34.95" stroke-width="0.45">1.9</text>
<text transform="translate(1475.90 407.05) rotate(-90) scale(0.9392 1)" font-size="41.15" stroke-width="0.53">Frequency</text>
<text transform="translate(1475.90 197.18) rotate(-90) scale(0.9237 1)" font-size="41.71" stroke-width="0.54">[GHz]</text>
</g></svg>
</body></html>
